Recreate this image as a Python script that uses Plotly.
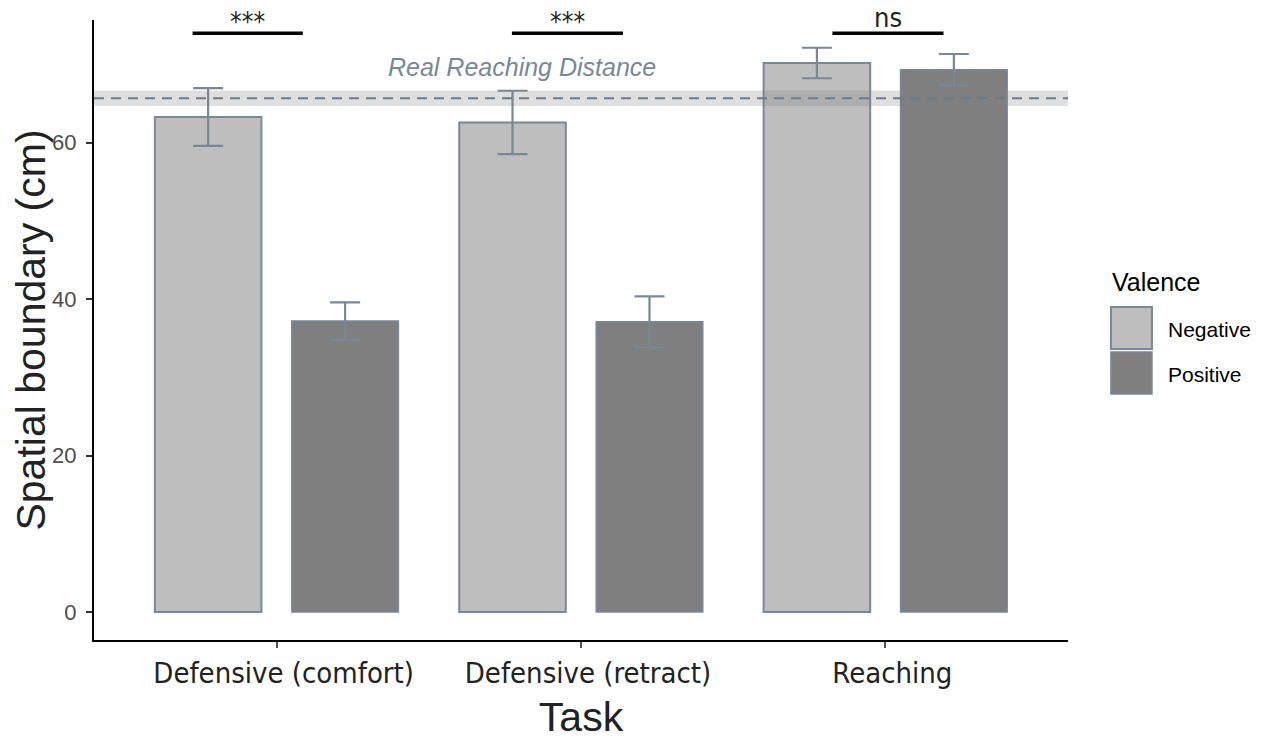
import plotly.graph_objects as go

# ---------------- data ----------------
tasks = ["Defensive (comfort)", "Defensive (retract)", "Reaching"]
valences = ["Negative", "Positive"]
neg_mean = [63.3, 62.6, 70.2]
neg_err = [3.7, 4.05, 1.95]
pos_mean = [37.2, 37.1, 69.35]
pos_err = [2.4, 3.25, 2.0]

real_reach = 65.7          # real reaching distance (cm)
real_reach_sd = 1.0        # half-width of the shaded band
real_reach_label = "Real Reaching Distance"

sig_x0 = [-0.276, 0.773, 1.826]
sig_x1 = [0.086, 1.138, 2.191]
sig_y = [74.0, 74.0, 74.0]
sig_labels = ["***", "***", "ns"]

y_ticks = [0, 20, 40, 60]

# ---------------- style ----------------
neg_fill = "#BEBEBE"
pos_fill = "#7F7F7F"
edge = "#778899"
ref_line = "#6C7B8B"
arial = "Liberation Sans, Arial, sans-serif"
narrow = "DejaVu Sans Condensed, Liberation Sans Narrow, Liberation Sans, sans-serif"

fig = go.Figure()
for name, mean, err, fill, lw in [("Negative", neg_mean, neg_err, neg_fill, 2),
                                  ("Positive", pos_mean, pos_err, pos_fill, 1.5)]:
    fig.add_trace(go.Bar(
        x=tasks, y=mean, name=name,
        marker=dict(color=fill, line=dict(color=edge, width=lw)),
        error_y=dict(type="data", array=err, visible=True,
                     color=edge, thickness=2.2, width=15),
        showlegend=False,
    ))

# reference band + dashed line
fig.add_shape(type="rect", xref="paper", yref="y", x0=0, x1=1,
              y0=real_reach - real_reach_sd, y1=real_reach + real_reach_sd,
              fillcolor="rgba(128,128,128,0.25)", line=dict(width=0), layer="above")
fig.add_shape(type="line", xref="paper", yref="y", x0=0, x1=1,
              y0=real_reach, y1=real_reach,
              line=dict(color=ref_line, width=2, dash="10px,7px"), layer="above")
fig.add_annotation(x=0.806, y=69.7, xref="x", yref="y", text="<i>" + real_reach_label + "</i>",
                   showarrow=False, font=dict(family=arial, size=25, color=edge))

# significance brackets
for x0, x1, yv, lab in zip(sig_x0, sig_x1, sig_y, sig_labels):
    fig.add_shape(type="line", xref="x", yref="y", x0=x0, x1=x1, y0=yv, y1=yv,
                  line=dict(color="black", width=3.5))
    is_ns = lab == "ns"
    fig.add_annotation(x=(x0 + x1) / 2, y=yv, xref="x", yref="y", text=lab,
                       showarrow=False, yanchor="bottom", yshift=-2 if is_ns else -6,
                       font=dict(family=narrow, size=27 if is_ns else 26, color="#222222"))

# manual legend (paper coordinates)
leg_x0, leg_x1 = 1.0441, 1.0862
keys = [(valences[0], neg_fill, 0.5371, 0.4694, 0.5016, 2),
        (valences[1], pos_fill, 0.4645, 0.3968, 0.4290, 1.5)]
fig.add_annotation(x=1.0452, y=0.5774, xref="paper", yref="paper", text="Valence",
                   showarrow=False, xanchor="left", yanchor="middle", xshift=-2,
                   font=dict(family=arial, size=25, color="black"))
for lab, fill, ytop, ybot, ymid, lw in keys:
    fig.add_shape(type="rect", xref="paper", yref="paper", x0=leg_x0, x1=leg_x1,
                  y0=ybot, y1=ytop, fillcolor=fill, line=dict(color=edge, width=lw))
    fig.add_annotation(x=1.1027, y=ymid, xref="paper", yref="paper", text=lab,
                       showarrow=False, xanchor="left", yanchor="middle", xshift=-2,
                       font=dict(family=arial, size=21, color="black"))

# page body has an 8px margin: shrink figure so plot area lands where the reference has it
fig.update_layout(
    width=1255, height=734, autosize=False,
    margin=dict(l=86, r=195, t=12, b=102, autoexpand=False),
    plot_bgcolor="white", paper_bgcolor="white",
    barmode="group", bargap=0.1, bargroupgap=0.222,
    font=dict(family=arial),
)
fig.update_xaxes(
    type="category", categoryorder="array", categoryarray=tasks,
    range=[-0.6, 2.6], automargin=False,
    showline=True, linecolor="black", linewidth=2,
    ticks="outside", ticklen=6, tickcolor="#555555", tickwidth=1.5,
    ticklabelshift=7,
    tickfont=dict(family=narrow, size=29, color="#222222"),
    showgrid=False, zeroline=False,
    title=dict(text="Task", font=dict(family=arial, size=41, color="#222222"), standoff=14),
)
fig.update_yaxes(
    range=[-3.58, 75.7], tickvals=y_ticks, automargin=False,
    showline=True, linecolor="black", linewidth=2,
    ticks="outside", ticklen=6, tickcolor="#333333", tickwidth=1.5,
    ticklabelstandoff=5,
    tickfont=dict(family=arial, size=22, color="#4D4D4D"),
    showgrid=False, zeroline=False,
    title=dict(text="Spatial boundary (cm)", font=dict(family=arial, size=41, color="#222222"), standoff=5),
)

fig.write_html("out.html")
